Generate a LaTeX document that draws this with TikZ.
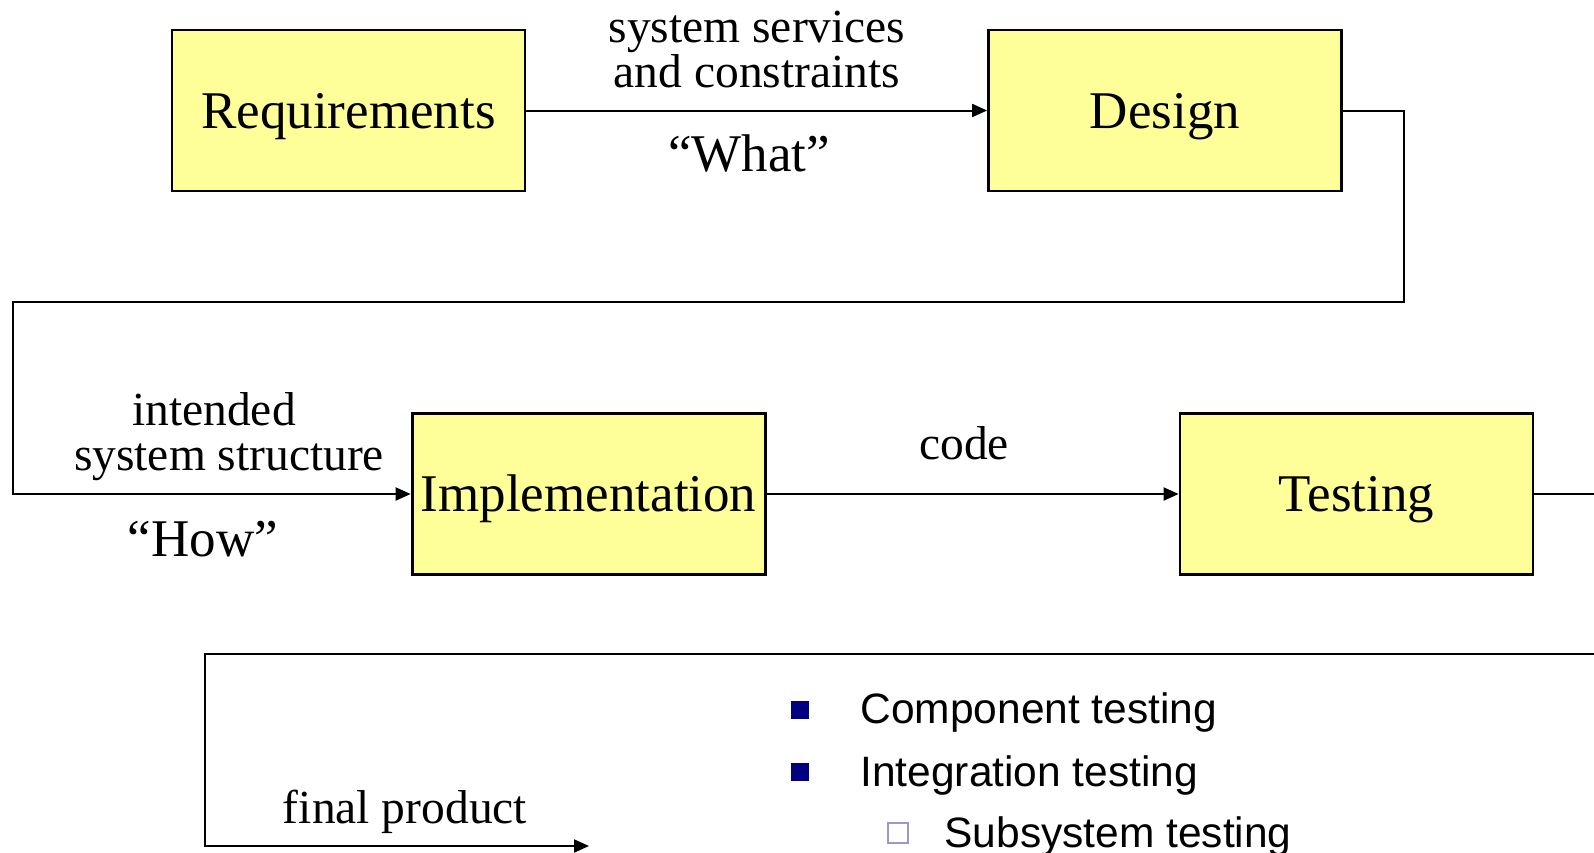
\documentclass[tikz,border=0pt]{standalone}
\usepackage{fontspec}
\setmainfont{Liberation Serif}
\newfontfamily\sansf{Liberation Sans}
\usetikzlibrary{arrows.meta}
\definecolor{boxfill}{HTML}{FFFF99}
\definecolor{navybullet}{HTML}{000080}
\definecolor{subbullet}{HTML}{9999CC}
\begin{document}
\begin{tikzpicture}[x=0.5pt,y=-0.5pt,
  phase/.style={draw=black, line width=1.4pt, fill=boxfill,
    minimum width=176.5pt, minimum height=80.5pt, inner sep=0pt,
    text height=17.5pt, text depth=0pt,
    font=\fontsize{26.5}{30}\selectfont},
  flow/.style={line width=1pt, -{Triangle[length=7.5pt,width=6.5pt]}},
  wire/.style={line width=1pt},
  lbl/.style={align=center, inner sep=0pt, font=\fontsize{23.75}{22.5}\selectfont},
  bigq/.style={inner sep=0pt, font=\fontsize{26.5}{30}\selectfont},
  item/.style={anchor=base west, inner sep=0pt, font=\sansf\fontsize{21.25}{24}\selectfont},
  mainbullet/.style={fill=navybullet, minimum size=9pt, inner sep=0pt},
  subbox/.style={draw=subbullet, line width=1.2pt, minimum size=10pt, inner sep=0pt}
]
\useasboundingbox (0,0) rectangle (1594,852);
\clip (0,0) rectangle (1594,852);

% phase boxes
\node[phase] (req)    at (348.5,110.5) {Requirements};
\node[phase] (design) at (1165,110.5)  {Design};
\node[phase] (impl)   at (588.6,494)   {Implementation};
\node[phase] (test)   at (1356.5,494)  {Testing};

% routing points
\coordinate (turnR) at (1404,302);
\coordinate (turnL) at (13,302);
\coordinate (edgeA) at (1600,494);
\coordinate (edgeB) at (1600,654);
\coordinate (corner) at (205,654);
\coordinate (prod) at (589,846);

% connectors
\draw[flow] (req.east) -- (design.west);
\draw[flow] (design.east) -| (turnR) -- (turnL) |- (impl.west);
\draw[flow] (impl.east) -- (test.west);
\draw[wire] (test.east) -- (edgeA);
\draw[flow] (edgeB) -- (corner) |- (prod);

% connector labels
\node[lbl]  (l1) at (757,50)  {system services\\and constraints};
\node[bigq] (l2) at (749,154) {“What”};
\node[lbl]  (l3) at (229,437) {intended\hspace*{15pt}\\system structure};
\node[bigq] (l4) at (203,539) {“How”};
\node[lbl]  (l5) at (964,443) {code};
\node[lbl]  (l6) at (405,812) {final product};

% testing levels
\node[mainbullet] (b1) at (800,710) {};
\node[item] (t1) at (860,723) {Component testing};
\node[mainbullet] (b2) at (800,772) {};
\node[item] (t2) at (860,786) {Integration testing};
\node[subbox] (b3) at (898,833) {};
\node[item] (t3) at (944,847) {Subsystem testing};
\end{tikzpicture}
\end{document}
